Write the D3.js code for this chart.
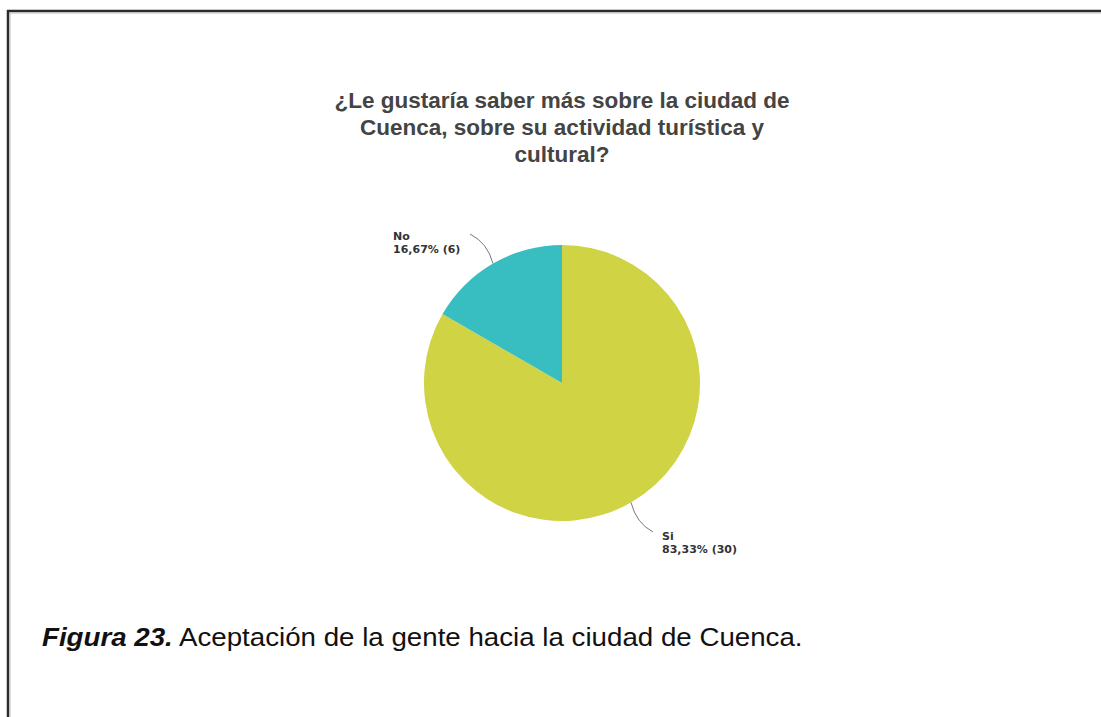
<!DOCTYPE html>
<html><head><meta charset="utf-8">
<script src="https://cdn.jsdelivr.net/npm/d3@7"></script>
<style>html,body{margin:0;padding:0;background:#fff;}</style>
</head><body>
<svg id="c" width="1101" height="717"></svg>
<script>
const categories = ["Si", "No"];
const counts = [30, 6];
const percentLabels = ["83,33%", "16,67%"];
const colors = ["#d0d343", "#38bec0"];
const titleLines = ["¿Le gustaría saber más sobre la ciudad de", "Cuenca, sobre su actividad turística y", "cultural?"];

const svg = d3.select("#c");
// page frame
svg.append("line").attr("x1",7).attr("x2",1101).attr("y1",11).attr("y2",11).attr("stroke","#2b2b2b").attr("stroke-width",2.5);
svg.append("line").attr("x1",8).attr("x2",8).attr("y1",10).attr("y2",717).attr("stroke","#2b2b2b").attr("stroke-width",2.5);
svg.append("line").attr("x1",9.5).attr("x2",1101).attr("y1",13).attr("y2",13).attr("stroke","#bbb").attr("stroke-width",1);
svg.append("line").attr("x1",10).attr("x2",10).attr("y1",13).attr("y2",717).attr("stroke","#bbb").attr("stroke-width",1);

// title
const t = svg.append("text").attr("text-anchor","middle").attr("font-family","Liberation Sans, Arial, sans-serif")
  .attr("font-weight","bold").attr("font-size",22.5).attr("fill","#444");
titleLines.forEach((l,i)=>t.append("tspan").attr("x",562).attr("y",108+i*27).text(l));

const cx = 562, cy = 383, r = 138;
const g = svg.append("g").attr("transform",`translate(${cx},${cy})`);
const pie = d3.pie().sort(null).value(d=>d.v);
const data = categories.map((c,i)=>({c, v:counts[i], p:percentLabels[i], col:colors[i]}));
const arcs = pie(data);
const arc = d3.arc().innerRadius(0).outerRadius(r);
g.selectAll("path.s").data(arcs).join("path").attr("class","s").attr("d",arc).attr("fill",d=>d.data.col);

// leader lines and labels
const labelPos = {"No":{end:[470-cx,234-cy], tx:393-cx, ty:240-cy}, "Si":{end:[653-cx,532-cy], tx:662-cx, ty:540-cy}};
arcs.forEach(a=>{
  const m = (a.startAngle+a.endAngle)/2;
  const p0 = [Math.sin(m)*r, -Math.cos(m)*r];
  const lp = labelPos[a.data.c];
  const p1 = lp.end;
  const ctrl = [p0[0]+(p1[0]-p0[0])*0.15 + (a.data.c==="No"?-2:2), p0[1]+(p1[1]-p0[1])*0.7];
  g.append("path").attr("d",`M${p0[0]},${p0[1]}Q${ctrl[0]},${ctrl[1]} ${p1[0]},${p1[1]}`)
    .attr("fill","none").attr("stroke","#777").attr("stroke-width",1);
  const tt = g.append("text").attr("font-family","DejaVu Sans, sans-serif").attr("font-weight","bold")
    .attr("font-size",11).attr("fill","#333");
  tt.append("tspan").attr("x",lp.tx).attr("y",lp.ty).text(a.data.c);
  tt.append("tspan").attr("x",lp.tx).attr("y",lp.ty+13).text(`${a.data.p} (${a.data.v})`);
});

// caption
const capG = svg.append("g");
const cap = capG.append("text").attr("x",0).attr("y",0).attr("font-family","Liberation Sans, Arial, sans-serif")
  .attr("font-size",25).attr("fill","#111");
cap.append("tspan").attr("font-weight","bold").attr("font-style","italic").text("Figura 23.");
cap.append("tspan").text(" Aceptación de la gente hacia la ciudad de Cuenca.");
const w = cap.node().getComputedTextLength();
const sx = (803-42)/w;
capG.attr("transform",`translate(42,646) scale(${sx},1)`);
</script>
</body></html>
